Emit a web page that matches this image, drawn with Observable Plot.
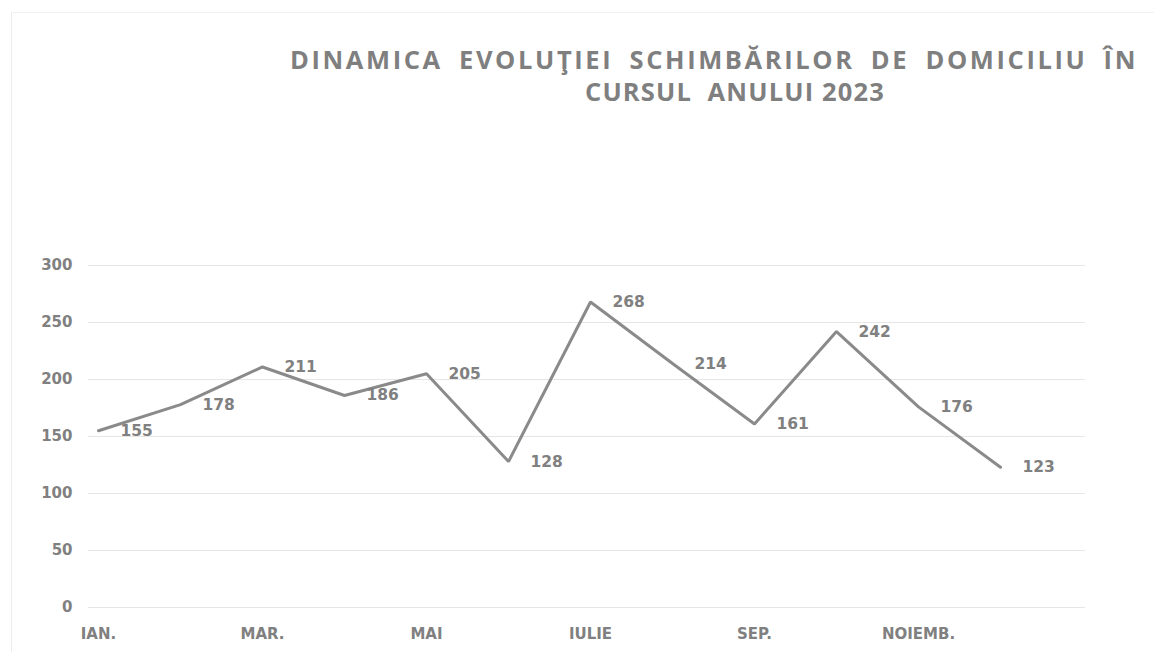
<!DOCTYPE html>
<html>
<head>
<meta charset="utf-8">
<script src="https://cdn.jsdelivr.net/npm/d3@7"></script>
<script src="https://cdn.jsdelivr.net/npm/@observablehq/plot@0.6"></script>
<style>
  html, body { margin: 0; padding: 0; background: #fff; }
  #page { position: relative; width: 1154px; height: 652px; overflow: hidden; }
  #frame { position: absolute; left: 11px; top: 12px; right: -5px; bottom: -5px;
           border-left: 1px solid #ececec; border-top: 1px solid #f0f0f0; pointer-events: none; }
  #title { position: relative; height: 130px; }
  .tline { position: absolute; white-space: pre; font-family: "Open Sans", sans-serif;
           font-weight: 700; font-size: 25.5px; word-spacing: 7px; color: #7f7f7f; line-height: 1; }
  #t2 { word-spacing: 0; }
  #chart svg { display: block; }
</style>
</head>
<body>
<div id="page">
  <div id="frame"></div>
  <div id="title">
    <div class="tline" id="t1">DINAMICA EVOLUŢIEI SCHIMBĂRILOR DE DOMICILIU ÎN</div>
    <div class="tline" id="t2">CURSUL  ANULUI 2023</div>
  </div>
  <div id="chart"></div>
</div>
<script>
// Monthly number of domicile changes, 2023
const months = ["IAN.", "FEB.", "MAR.", "APR.", "MAI", "IUN.", "IULIE", "AUG.", "SEP.", "OCT.", "NOIEMB.", "DEC."];
const changes = [155, 178, 211, 186, 205, 128, 268, 214, 161, 242, 176, 123];
const monthTicks = ["IAN.", "MAR.", "MAI", "IULIE", "SEP.", "NOIEMB."];
const yTicks = [0, 50, 100, 150, 200, 250, 300];

const data = months.map((m, i) => ({month: m, value: changes[i]}));

// Title lines: centre each line; spread the letters to the wanted width
function placeLine(el, cx, cy, targetWidth) {
  const n = el.textContent.length;
  const w0 = el.getBoundingClientRect().width;
  el.style.letterSpacing = Math.max(0, (targetWidth - w0) / n) + "px";
  const r = el.getBoundingClientRect();
  el.style.left = (cx - r.width / 2) + "px";
  el.style.top = (cy - r.height / 2) + "px";
}
placeLine(document.getElementById("t1"), 714, 60, 848);
placeLine(document.getElementById("t2"), 735, 92, 300);

const grey = "#808080";
const font = "DejaVu Sans, Verdana, sans-serif";

const chart = Plot.plot({
  width: 1154,
  height: 522,
  marginLeft: 88,
  marginRight: 69,
  marginTop: 135,
  marginBottom: 45,
  style: {fontFamily: font, fontSize: "15px", fontWeight: "bold", color: grey, background: "#fff"},
  x: {type: "point", domain: months, range: [95, 1002.5], padding: 0},
  y: {domain: [0, 300], ticks: yTicks},
  marks: [
    Plot.ruleY(yTicks, {stroke: "#e6e6e6", strokeWidth: 1.2}),
    Plot.axisY({ticks: yTicks, tickSize: 0, tickPadding: 16, label: null, fill: grey}),
    Plot.axisX({ticks: monthTicks, tickSize: 0, tickPadding: 21, label: null, fill: grey}),
    Plot.line(data, {x: "month", y: "value", stroke: "#8a8a8a", strokeWidth: 3, strokeLinejoin: "miter"}),
    Plot.text(data, {x: "month", y: "value", text: d => String(d.value), textAnchor: "start", dx: 22,
                     fill: grey, fontSize: 15.5, fontWeight: "bold"})
  ]
});
document.getElementById("chart").appendChild(chart);
</script>
</body>
</html>
